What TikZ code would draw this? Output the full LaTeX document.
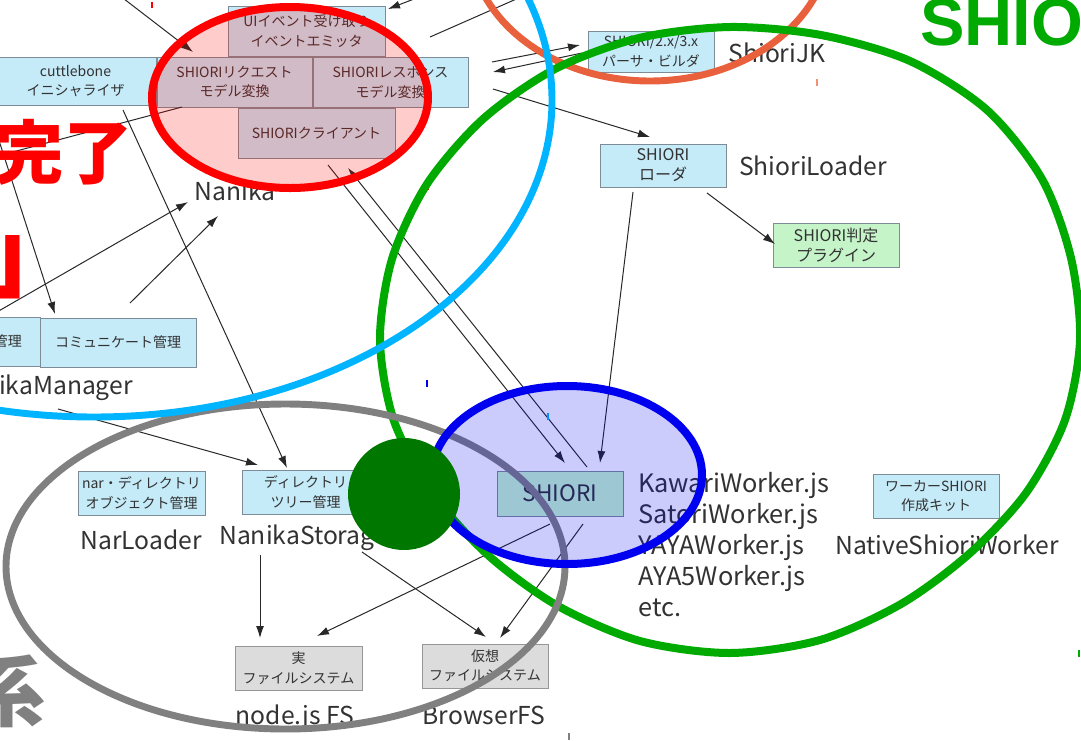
\documentclass[tikz,border=0pt]{standalone}
\usepackage{fontspec}
\setmainfont{Noto Sans CJK JP}
\newfontfamily\latinbold{Liberation Sans}
\usetikzlibrary{arrows.meta}
\definecolor{boxblue}{RGB}{197,234,248}
\definecolor{boxline}{RGB}{125,140,150}
\definecolor{boxgreen}{RGB}{196,244,200}
\definecolor{shioribox}{RGB}{196,249,204}
\definecolor{boxgrey}{RGB}{220,220,220}
\definecolor{boxgreyline}{RGB}{150,150,150}
\definecolor{arrowc}{RGB}{40,40,40}
\definecolor{txt}{RGB}{50,50,50}
\definecolor{ringred}{RGB}{255,0,0}
\definecolor{ringcyan}{RGB}{0,180,255}
\definecolor{ringorange}{RGB}{232,96,60}
\definecolor{ringgreen}{RGB}{0,170,0}
\definecolor{ringgrey}{RGB}{128,128,128}
\definecolor{ringblue}{RGB}{0,0,240}
\definecolor{dotgreen}{RGB}{0,120,0}
\begin{document}
\begin{tikzpicture}[x=0.75pt,y=-0.75pt,
  bx/.style 2 args={draw=boxline, line width=0.75pt, fill=boxblue,
    minimum width=#1*0.75pt, minimum height=#2*0.75pt, inner sep=0pt,
    align=center, text=txt, font=\fontsize{10.5}{14.5}\selectfont},
  bigtext/.style={font=\fontsize{12}{15}\selectfont},
  greybox/.style={fill=boxgrey, draw=boxgreyline},
  lbl/.style={inner sep=0pt, text=txt, font=\fontsize{18.5}{23.25}\selectfont},
  arr/.style={draw=arrowc, line width=0.75pt, -{Latex[length=9pt,width=6pt]}},
  ln/.style={draw=arrowc, line width=0.75pt},
  tick/.style={line width=1pt}
]
\useasboundingbox (0,0) rectangle (1081,740);
\fill[white] (0,0) rectangle (1081,740);
\clip (0,0) rectangle (1081,740);

% ---------- boxes ----------
\node[bx={161}{48}] (cuttle) at (75.5,81) {cuttlebone\\イニシャライザ};
\node[bx={157}{50}] (ui) at (306.5,31) {UIイベント受け取り\\イベントエミッタ};
\node[bx={155}{50}] (req) at (234.5,82) {SHIORIリクエスト\\モデル変換};
\node[bx={155}{50}] (res) at (390.5,82) {SHIORIレスポンス\\モデル変換};
\node[bx={157}{50}] (client) at (316.5,133) {SHIORIクライアント};
\node[bx={126}{41}] (parser) at (651,51.5) {SHIORI/2.x/3.x\\パーサ・ビルダ};
\node[bx={126}{43}, bigtext] (loader) at (663,165.5) {SHIORI\\ローダ};
\node[bx={126}{44}, bigtext, fill=boxgreen] (plugin) at (836,245) {SHIORI判定\\プラグイン};
\node[bx={160}{49}, text width=93pt, align=right] (mgr) at (-40,341.5) {管理};
\node[bx={156}{49}] (comm) at (118,342.5) {コミュニケート管理};
\node[bx={127}{44}] (nar) at (141.5,493) {nar・ディレクトリ\\オブジェクト管理};
\node[bx={127}{44}] (dirtree) at (305.5,492) {ディレクトリ\\ツリー管理};
\node[bx={126}{45}, fill=shioribox, font=\fontsize{17}{20}\selectfont] (shiori) at (560,493.5) {SHIORI};
\node[bx={126}{44}] (kit) at (936,496) {ワーカーSHIORI\\作成キット};
\node[bx={127}{44}, greybox] (realfs) at (298.5,668) {実\\ファイルシステム};
\node[bx={126}{44}, greybox] (virtfs) at (485,666) {仮想\\ファイルシステム};

% ---------- labels ----------
\node[lbl] (nanika) at (235,191) {Nanika};
\node[lbl] (shiorijk) at (777,53) {ShioriJK};
\node[lbl] (shioriloader) at (813,166) {ShioriLoader};
\node[lbl, anchor=east] (nanikamanager) at (133,388) {NanikaManager};
\node[lbl] (narloader) at (141,540) {NarLoader};
\node[lbl, anchor=west] (nanikastorage) at (219,538) {NanikaStorage};
\node[lbl, anchor=west, align=left, font=\fontsize{19}{23.25}\selectfont] (workers) at (638,545) {KawariWorker.js\\SatoriWorker.js\\YAYAWorker.js\\AYA5Worker.js\\etc.};
\node[lbl] (nativeworker) at (947,545) {NativeShioriWorker};
\node[lbl] (nodefs) at (295,718) {node.js FS};
\node[lbl] (browserfs) at (484,715) {BrowserFS};

% ---------- connector end points ----------
\coordinate (a1s) at (115,-8);   \coordinate (a1e) at (193,52);
\coordinate (a2s) at (440,-11);  \coordinate (a2e) at (388,9);
\coordinate (a3s) at (430,37);   \coordinate (a3e) at (530,-7);
\coordinate (a4s) at (492,62);   \coordinate (a4e) at (580,45);
\coordinate (a5s) at (582,53);   \coordinate (a5e) at (493,72);
\coordinate (a6s) at (493,89);   \coordinate (a6e) at (650,137);
\coordinate (a7s) at (633,192);  \coordinate (a7e) at (600,463);
\coordinate (a8s) at (707,193);  \coordinate (a8e) at (775,244);
\coordinate (a9s) at (328,165);  \coordinate (a9e) at (565,463);
\coordinate (a10s) at (587,467); \coordinate (a10e) at (348,168);
\coordinate (a11s) at (182,107); \coordinate (a11e) at (-10,158);
\coordinate (a12s) at (123,110); \coordinate (a12e) at (287,468);
\coordinate (a13s) at (-27,60);  \coordinate (a13e) at (55,314);
\coordinate (a14s) at (-10,316); \coordinate (a14e) at (188,202);
\coordinate (a15s) at (130,303); \coordinate (a15e) at (218,216);
\coordinate (a16s) at (58,409);  \coordinate (a16e) at (258,465);
\coordinate (a17s) at (260,555); \coordinate (a17e) at (260,638);
\coordinate (a18s) at (362,552); \coordinate (a18e) at (486,637);
\coordinate (a19s) at (550,524); \coordinate (a19e) at (317,636);
\coordinate (a20s) at (583,524); \coordinate (a20e) at (500,638);

\draw[arr] (a1s) -- (a1e);
\draw[arr] (a2s) -- (a2e);
\draw[ln]  (a3s) -- (a3e);
\draw[arr] (a4s) -- (a4e);
\draw[arr] (a5s) -- (a5e);
\draw[arr] (a6s) -- (a6e);
\draw[arr] (a7s) -- (a7e);
\draw[arr] (a8s) -- (a8e);
\draw[arr] (a9s) -- (a9e);
\draw[arr] (a10s) -- (a10e);
\draw[ln]  (a11s) -- (a11e);
\draw[arr] (a12s) -- (a12e);
\draw[arr] (a13s) -- (a13e);
\draw[arr] (a14s) -- (a14e);
\draw[arr] (a15s) -- (a15e);
\draw[arr] (a16s) -- (a16e);
\draw[arr] (a17s) -- (a17e);
\draw[arr] (a18s) -- (a18e);
\draw[arr] (a19s) -- (a19e);
\draw[arr] (a20s) -- (a20e);

% ---------- small marks ----------
\draw[tick, red] (152,2) -- (152,8);
\draw[tick, ringorange!70] (817,79) -- (817,86);
\draw[tick, red] (428,184) -- (428,190);
\draw[tick, ringblue] (427,380) -- (427,387);
\draw[tick, ringcyan] (548,413) -- (548,420);
\draw[tick, ringgrey] (569,733) -- (569,740);
\draw[tick, ringgreen] (1079,650) -- (1079,657);

% ---------- annotation rings ----------
\draw[line width=5.2pt, ringorange] (650,-60) ellipse [x radius=180, y radius=141];
\draw[line width=6pt, ringgreen] plot[smooth cycle] coordinates {
  (1080,340) (1065,420) (1026,493) (969,554) (901,604) (820,640) (730,653)
  (640,641) (558,606) (489,556) (433,494) (394,421) (380,340) (392,259)
  (427,184) (483,119) (555,69) (639,38) (730,27) (821,35) (910,61)
  (987,110) (1042,179) (1071,258)};
\draw[line width=5.2pt, ringgrey] (285.5,566.5) ellipse [x radius=279.5, y radius=162.5];
\draw[line width=5.2pt, ringcyan] (94,100) ellipse [x radius=458, y radius=317];
\draw[line width=6pt, ringred, fill=ringred, fill opacity=0.2] (290,97.5) ellipse [x radius=138, y radius=90.5];
\draw[line width=6pt, ringblue, fill=ringblue, fill opacity=0.2] (567,475) ellipse [x radius=135, y radius=89];
\fill[dotgreen] (404,494) circle [radius=56];

% ---------- big annotation texts ----------
\node[anchor=east, inner sep=0pt, text=red, font=\bfseries\fontsize{52}{52}\selectfont] (kanryo) at (133,152) {完了};
\node[anchor=base west, inner sep=0pt, text=red, font=\bfseries\fontsize{75}{75}\selectfont] (bracket) at (-17,289) {」};
\node[anchor=base east, inner sep=0pt, text=ringgrey, font=\bfseries\fontsize{58}{58}\selectfont] (kei) at (46,720) {系};
\node[anchor=base west, inner sep=0pt, text=ringgreen, font=\latinbold\bfseries\fontsize{50}{50}\selectfont] (shiobig) at (920,45) {SHIO};
\end{tikzpicture}
\end{document}
